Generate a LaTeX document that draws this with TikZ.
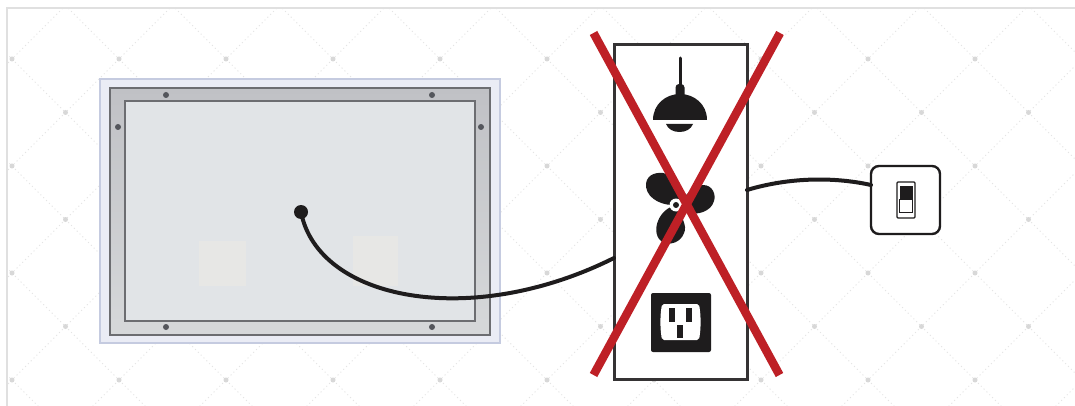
\documentclass[tikz,border=0pt]{standalone}
\usepackage{tikz}
\usetikzlibrary{positioning,calc}
\definecolor{cFrame}{RGB}{224,224,224}
\definecolor{cGrid}{RGB}{216,216,216}
\definecolor{cLine}{RGB}{228,228,228}
\definecolor{cGlow}{RGB}{234,236,245}
\definecolor{cGlowB}{RGB}{197,203,224}
\definecolor{cTrimTop}{RGB}{192,193,197}
\definecolor{cTrimLow}{RGB}{214,216,218}
\definecolor{cEdge}{RGB}{108,109,113}
\definecolor{cGlass}{RGB}{225,228,231}
\definecolor{cPatch}{RGB}{231,231,229}
\definecolor{cScrew}{RGB}{84,86,92}
\definecolor{cInk}{RGB}{30,28,29}
\definecolor{cCross}{RGB}{190,32,38}
\tikzset{
	box/.style={draw=#1, rectangle, inner sep=0pt, outer sep=0pt, anchor=north west},
	latdot/.style={circle, fill=cGrid, minimum size=5pt, inner sep=0pt},
	screw/.style={circle, fill=cScrew, minimum size=6pt, inner sep=0pt},
	wire/.style={draw=cInk, line width=4pt, line cap=round},
	crossbar/.style={draw=cCross, line width=8.5pt},
	inkfill/.style={fill=cInk, draw=none},
}
\begin{document}
\begin{tikzpicture}[x=1pt,y=-1pt]
	\useasboundingbox (0,0) rectangle (1075,406);
	\fill[white] (0,0) rectangle (1075,406);
	% backdrop lattice
	\begin{scope}
		\clip (7,8) rectangle (1075,406);
		\foreach \r in {0,...,3}
			\foreach \c in {-1,...,10}
				\draw[cLine, line width=1pt, dash pattern=on 1pt off 3pt]
					({12+107*\c-53.5},{5.5+107*\r}) -- ++(107,107)
					({12+107*\c+53.5},{5.5+107*\r}) -- ++(-107,107);
	\end{scope}
	\foreach \r in {0,...,3}
		\foreach \c in {0,...,9}
			\node[latdot] (lat\r\c) at ({12+107*\c},{59+107*\r}) {};
	\foreach \r in {0,...,2}
		\foreach \c in {0,...,9}
			\node[latdot] (lbt\r\c) at ({65.5+107*\c},{112.5+107*\r}) {};
	\draw[cFrame, line width=2.8pt] (7,406) |- (1075,8);
	% mirror
	\node[box=cGlowB, fill=cGlow, line width=1.4pt, minimum width=400pt, minimum height=264pt] (glow) at (100,79) {};
	\node[box=cEdge, top color=cTrimTop, bottom color=cTrimLow, line width=2.7pt, minimum width=380pt, minimum height=247pt] (trim) at (110,88) {};
	\node[box=cEdge, fill=cGlass, line width=2.7pt, minimum width=350pt, minimum height=220pt] (glass) at (125,101) {};
	\fill[cPatch] (199,241) rectangle (246,286);
	\fill[cPatch] (353,236) rectangle (398,286);
	\node[screw] (s1) at (166,95) {};
	\node[screw] (s2) at (432,95) {};
	\node[screw] (s3) at (118,127) {};
	\node[screw] (s4) at (481,127) {};
	\node[screw] (s5) at (166,327) {};
	\node[screw] (s6) at (432,327) {};
	\node[circle, fill=cInk, minimum size=14pt, inner sep=0pt] (plug) at (301,212) {};
	% wall box
	\node[box=cInk!90, fill=white, line width=3pt, minimum width=133pt, minimum height=334pt] (wallbox) at (614,45) {};
	\coordinate (boxin) at (614,258);
	\coordinate (boxout) at (747,190);
	\draw[wire] (plug.center) .. controls (318,300) and (470,330) .. (boxin);
	% lamp
	\draw[cInk, line width=3pt, line cap=round] (680,58) -- (680,88);
	\fill[cInk, rounded corners=3.5pt] (675.5,100) -- (675.5,84) -- (684.5,84) -- (684.5,100) -- cycle;
	\path[inkfill] (653,120) .. controls (653,104) and (666,94) .. (680,94) .. controls (694,94) and (707,104) .. (707,120) -- cycle;
	\path[inkfill] (666,124) -- (693,124) .. controls (691,129) and (686,132) .. (679.5,132) .. controls (673,132) and (668,129) .. (666,124) -- cycle;
	% fan
	\path[inkfill] (676,205) .. controls (664,206) and (648,200) .. (646,187) .. controls (645,176) and (654,172) .. (663,173) .. controls (676,175) and (688,192) .. (676,205) -- cycle;
	\path[inkfill] (676,205) .. controls (686,197) and (692,185) .. (703,185) .. controls (713,185) and (716,195) .. (714,201) .. controls (711,212) and (697,215) .. (689,213) .. controls (684,212) and (680,209) .. (676,205) -- cycle;
	\path[inkfill] (676,205) .. controls (680,214) and (688,226) .. (684,233) .. controls (681,242) and (671,245) .. (665,243) .. controls (655,240) and (655,228) .. (658,221) .. controls (661,213) and (668,207) .. (676,205) -- cycle;
	\node[circle, fill=white, minimum size=13pt, inner sep=0pt] (hubring) at (676,205) {};
	\node[circle, fill=cInk, minimum size=6pt, inner sep=0pt] (hub) at (676,205) {};
	% outlet
	\fill[cInk, rounded corners=2pt] (651,293) rectangle (711,352);
	\fill[white, rounded corners=2pt] (662,304) .. controls (660,316) and (660,328) .. (662,340) -- (699,340) .. controls (701,328) and (701,316) .. (699,304) -- cycle;
	\fill[cInk] (669,308) rectangle (675,322);
	\fill[cInk] (686,308) rectangle (692,322);
	\fill[cInk] (677,325) rectangle (683,338);
	% cross
	\draw[crossbar] (593.5,33) -- (779.5,375);
	\draw[crossbar] (780,33) -- (593.5,375);
	% wall switch
	\node[box=cInk, fill=white, line width=2.4pt, rounded corners=8pt, minimum width=69pt, minimum height=68pt] (plate) at (871,166) {};
	\draw[wire] (boxout) .. controls (790,177) and (835,177) .. (plate.west |- 0,185);
	\node[box=cInk, fill=white, line width=1.2pt, rounded corners=1pt, minimum width=18pt, minimum height=36pt] (rocker) at (897,182) {};
	\fill[cInk] (899.5,186) rectangle (912.5,199);
	\draw[cInk, line width=0.7pt] (899.5,199) rectangle (912.5,212);
\end{tikzpicture}
\end{document}
